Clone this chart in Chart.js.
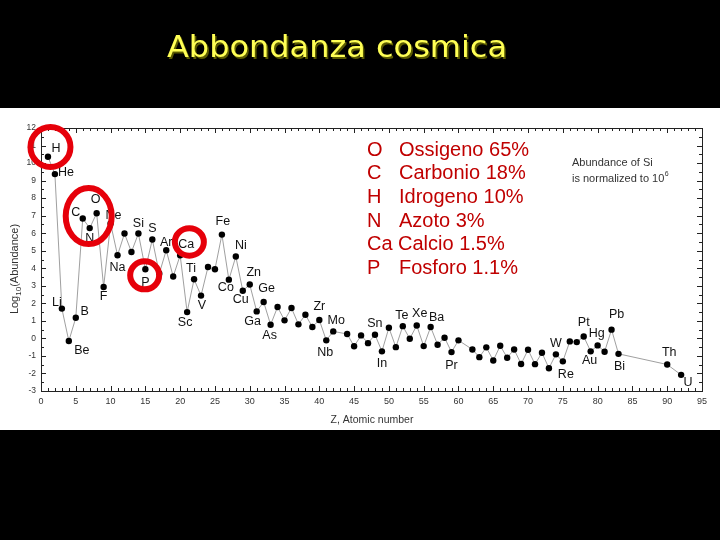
<!DOCTYPE html>
<html><head><meta charset="utf-8">
<script src="https://cdn.jsdelivr.net/npm/chart.js@4"></script>
<style>html,body{margin:0;padding:0;background:#000;}canvas{display:block;}</style>
</head><body>
<canvas id="c" width="720" height="540"></canvas>
<script>
// ---- data ----
const atomicNumbers = [1,2,3,4,5,6,7,8,9,10,11,12,13,14,15,16,17,18,19,20,21,22,23,24,25,26,27,28,29,30,31,32,33,34,35,36,37,38,39,40,41,42,44,45,46,47,48,49,50,51,52,53,54,55,56,57,58,59,60,62,63,64,65,66,67,68,69,70,71,72,73,74,75,76,77,78,79,80,81,82,83,90,92];
const symbols = ['H','He','Li','Be','B','C','N','O','F','Ne','Na','Mg','Al','Si','P','S','Cl','Ar','K','Ca','Sc','Ti','V','Cr','Mn','Fe','Co','Ni','Cu','Zn','Ga','Ge','As','Se','Br','Kr','Rb','Sr','Y','Zr','Nb','Mo','Ru','Rh','Pd','Ag','Cd','In','Sn','Sb','Te','I','Xe','Cs','Ba','La','Ce','Pr','Nd','Sm','Eu','Gd','Tb','Dy','Ho','Er','Tm','Yb','Lu','Hf','Ta','W','Re','Os','Ir','Pt','Au','Hg','Tl','Pb','Bi','Th','U'];
const logAbundance = [10.36,9.37,1.70,-0.15,1.18,6.84,6.29,7.14,2.93,6.55,4.74,5.98,4.93,5.98,3.94,5.64,3.70,5.03,3.53,4.74,1.50,3.37,2.44,4.07,3.94,5.92,3.35,4.67,2.72,3.07,1.54,2.08,0.78,1.79,1.03,1.73,0.80,1.35,0.65,1.05,-0.11,0.40,0.25,-0.45,0.17,-0.27,0.21,-0.74,0.61,-0.50,0.70,-0.02,0.74,-0.44,0.65,-0.36,0.04,-0.78,-0.11,-0.63,-1.07,-0.51,-1.26,-0.42,-1.10,-0.63,-1.46,-0.65,-1.47,-0.82,-1.70,-0.91,-1.31,-0.17,-0.21,0.11,-0.74,-0.40,-0.76,0.50,-0.88,-1.49,-2.08];
const xTickStep = 5;
const yTickStep = 1;
const compositionSymbols = ['O','C','H','N','Ca','P'];
const compositionNames = ['Ossigeno 65%','Carbonio 18%','Idrogeno 10%','Azoto 3%','Calcio 1.5%','Fosforo 1.1%'];
const circledElements = ['H','N','P','Ca'];

// ---- layout (offsets in px from the point) ----
const labelOffsets = {H:[8,-8],He:[11,-2],Li:[-5,-6],Be:[13,10],B:[9,-6],C:[-7,-6],N:[0,10],O:[-1,-14],Ne:[3,-8],F:[0,10],Na:[0,12],Si:[0,-10],S:[0,-11],Ar:[0,-8],Ca:[6,-11],P:[0,13],Ti:[-3,-11],Sc:[-2,10],V:[1,10],Fe:[1,-13],Ni:[5,-11],Co:[-3,8],Cu:[-2,9],Zn:[4,-12],Ge:[3,-13],Ga:[-4,10],As:[-1,11],Zr:[0,-13],Mo:[3,-11],Nb:[-1,12],Sn:[-14,-4],In:[0,12],Te:[-1,-11],Xe:[3,-12],Ba:[6,-9],Pr:[0,13],W:[0,-11],Re:[3,13],Pt:[0,-14],Hg:[-1,-12],Au:[-1,9],Pb:[5,-15],Bi:[1,13],Th:[2,-12],U:[7,8]};
const ringGeom = {H:[2.5,-9.7,20,20],N:[-1,-12,23,28],P:[-0.7,6,14.5,14],Ca:[9.2,-13.3,14.5,13.7]};

const points = atomicNumbers.map((z,i)=>({x:z,y:logAbundance[i]}));
const FONT = '"Liberation Sans", Arial, sans-serif';

const decor = {
  id:'decor',
  beforeDraw(chart){
    const ctx = chart.ctx;
    ctx.save();
    ctx.fillStyle='#000'; ctx.fillRect(0,0,720,540);
    ctx.fillStyle='#fff'; ctx.fillRect(0,108,720,322);
    // title
    ctx.font='30px "DejaVu Sans", sans-serif';
    ctx.textBaseline='alphabetic'; ctx.textAlign='left';
    const t='Abbondanza cosmica';
    const w=ctx.measureText(t).width;
    ctx.translate(167,57); ctx.scale(340/w,1);
    ctx.fillStyle='#5a5a00'; ctx.fillText(t,1.5,1.5);
    ctx.fillStyle='#ffff55'; ctx.fillText(t,0,0);
    ctx.restore();
  },
  afterDatasetsDraw(chart){
    const ctx = chart.ctx, a = chart.chartArea;
    const xs = chart.scales.x, ys = chart.scales.y;
    const meta = chart.getDatasetMeta(0);
    ctx.save();
    // frame
    ctx.strokeStyle='#222'; ctx.lineWidth=1;
    ctx.strokeRect(Math.round(a.left)+0.5,Math.round(a.top)+0.5,Math.round(a.right-a.left),Math.round(a.bottom-a.top));
    ctx.beginPath();
    for(let z=xs.min; z<=xs.max; z++){
      const px=Math.round(xs.getPixelForValue(z))+0.5;
      const len = z%xTickStep===0?5:3;
      ctx.moveTo(px,a.bottom); ctx.lineTo(px,a.bottom-len);
      ctx.moveTo(px,a.top); ctx.lineTo(px,a.top+len);
    }
    for(let v=ys.min; v<=ys.max; v+=0.5){
      const py=Math.round(ys.getPixelForValue(v))+0.5;
      const len = Number.isInteger(v)?5:3;
      ctx.moveTo(a.left,py); ctx.lineTo(a.left+len,py);
      ctx.moveTo(a.right,py); ctx.lineTo(a.right-len,py);
    }
    ctx.stroke();
    // element labels
    ctx.fillStyle='#111'; ctx.font='12.5px '+FONT; ctx.textAlign='center'; ctx.textBaseline='middle';
    symbols.forEach((s,i)=>{
      const o=labelOffsets[s]; if(!o) return;
      const p=meta.data[i];
      ctx.fillText(s,p.x+o[0],p.y+o[1]);
    });
    // rings
    ctx.strokeStyle='#e6000a'; ctx.lineWidth=6;
    circledElements.forEach(s=>{
      const i=symbols.indexOf(s), p=meta.data[i], g=ringGeom[s];
      ctx.beginPath(); ctx.ellipse(p.x+g[0],p.y+g[1],g[2],g[3],0,0,Math.PI*2); ctx.stroke();
    });
    // composition list
    ctx.fillStyle='#c00000'; ctx.font='20px '+FONT; ctx.textAlign='left'; ctx.textBaseline='alphabetic';
    compositionSymbols.forEach((s,i)=>{
      const y=155.5+i*23.7;
      ctx.fillText(s,367,y);
      ctx.fillText(compositionNames[i], s==='Ca'?398:399, y);
    });
    // note
    ctx.fillStyle='#333'; ctx.font='11px '+FONT;
    ctx.fillText('Abundance of Si',572,165.5);
    ctx.fillText('is normalized to 10',572,181.5);
    const nw=ctx.measureText('is normalized to 10').width;
    ctx.font='7px '+FONT; ctx.fillText('6',572+nw+0.5,176);
    // axis titles
    ctx.fillStyle='#333'; ctx.font='10.5px '+FONT; ctx.textAlign='center';
    ctx.fillText('Z, Atomic number',372,423);
    ctx.translate(18,269); ctx.rotate(-Math.PI/2);
    ctx.textAlign='left';
    ctx.font='11px '+FONT; const w1=ctx.measureText('Log').width, w3=ctx.measureText('(Abundance)').width;
    ctx.font='8px '+FONT; const w2=ctx.measureText('10').width;
    let x=-(w1+w2+w3)/2;
    ctx.font='11px '+FONT; ctx.fillText('Log',x,0); x+=w1;
    ctx.font='8px '+FONT; ctx.fillText('10',x,3); x+=w2;
    ctx.font='11px '+FONT; ctx.fillText('(Abundance)',x,0);
    ctx.restore();
  }
};

new Chart(document.getElementById('c'),{
  type:'scatter',
  data:{datasets:[{data:points,showLine:true,borderColor:'#a0a0a0',borderWidth:1,tension:0,
    pointRadius:3.2,pointBackgroundColor:'#000',pointBorderWidth:0,pointHoverRadius:3.2}]},
  options:{
    responsive:false, devicePixelRatio:1, animation:false,
    layout:{padding:{top:128,left:0,right:18,bottom:119}},
    plugins:{legend:{display:false},tooltip:{enabled:false}},
    scales:{
      x:{type:'linear',min:0,max:95,
        ticks:{stepSize:xTickStep,color:'#333',font:{size:9,family:FONT},padding:5,maxRotation:0},
        grid:{display:false,drawTicks:false},border:{display:false},
        afterFit(s){s.height=30;}},
      y:{type:'linear',min:-3,max:12,
        ticks:{stepSize:yTickStep,color:'#333',font:{size:8.5,family:FONT},padding:5},
        grid:{display:false,drawTicks:false},border:{display:false},
        afterFit(s){s.width=41;}}
    }
  },
  plugins:[decor]
});
</script>
</body></html>
